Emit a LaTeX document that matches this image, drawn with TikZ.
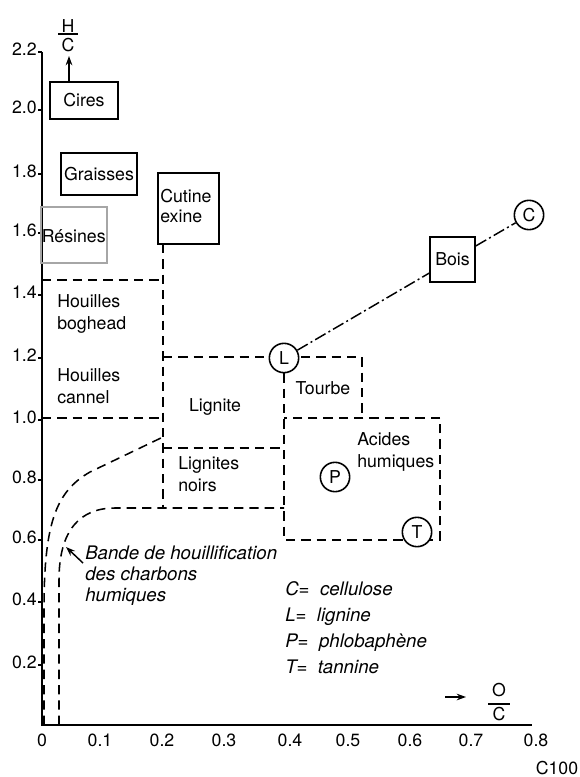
\documentclass[tikz,border=0pt]{standalone}
\usepackage{fontspec}
\setmainfont{TeX Gyre Heros}
\usetikzlibrary{arrows.meta}
\begin{document}
\begin{tikzpicture}[x=0.75pt,y=-0.75pt,
  lbl/.style={font=\fontsize{13.3pt}{16.5pt}\selectfont, inner sep=0pt},
  itl/.style={font=\fontsize{14pt}{15.75pt}\selectfont\itshape, inner sep=0pt},
  boxnode/.style={draw, line width=1.25pt, lbl},
  circ/.style={draw, circle, fill=white, line width=1.2pt, minimum size=22pt, inner sep=0pt, lbl},
  region/.style={line width=1.15pt, dash pattern=on 7pt off 4.5pt},
  chain/.style={line width=1.1pt, dash pattern=on 9pt off 2.5pt on 1.5pt off 2.5pt},
  axis/.style={line width=1.4pt},
  tip/.style={-{Stealth[length=7pt,width=5pt]}, line width=1.1pt}
]
\useasboundingbox (0,0) rectangle (580,777);

% axes
\draw[axis] (42,52) -- (42,725) -- (532,725);
\foreach \y/\t [count=\i] in {52/2.2,110/2.0,174/1.8,233/1.6,295/1.4,358/1.2,420/1.0,480/0.8,540/0.6,602/0.4,665/0.2}{
  \draw[line width=0.9pt] (38,\y) -- (42,\y);
  \node[lbl, anchor=east] (ylab\i) at (37,\y-3) {\t};
}
\foreach \x/\t [count=\i] in {42/0,100/0.1,162/0.2,224/0.3,290/0.4,348/0.5,410/0.6,471/0.7,536/0.8}{
  \node[lbl] (xlab\i) at (\x,740) {\t};
}
\node[lbl] (fig) at (557,768) {C100};

% axis titles
\node[lbl] (hnum) at (68,26) {H};
\node[lbl] (hden) at (68,45) {C};
\coordinate (hb1) at (58,34); \coordinate (hb2) at (78,34);
\draw[line width=1.1pt] (hb1) -- (hb2);
\node[lbl] (onum) at (499,690) {O};
\node[lbl] (oden) at (499,714) {C};
\coordinate (ob1) at (488,704); \coordinate (ob2) at (510,704);
\draw[line width=1.1pt] (ob1) -- (ob2);
\coordinate (oa1) at (445,697); \coordinate (oa2) at (466,697);
\draw[tip] (oa1) -- (oa2);

% boxes
\node[boxnode, minimum width=51pt, minimum height=27.75pt] (cires) at (84,100.5) {Cires};
\coordinate (hup) at (69,56);
\draw[tip] (cires.north -| hup) -- (hup);
\node[boxnode, minimum width=57pt, minimum height=31.5pt] (graisses) at (99,174) {Graisses};
\node[draw=gray!70, line width=1.2pt, minimum width=49.5pt, minimum height=42pt, inner sep=0pt] (resines) at (74,235) {};
\node[lbl, anchor=west] (restext) at (41.5,236) {Résines};
\node[draw, line width=1.25pt, minimum width=45.75pt, minimum height=53.25pt, inner sep=0pt] (cutine) at (188.5,208.5) {};
\node[lbl, anchor=west, align=left] (cuttext) at (160,206) {Cutine\\[-2pt]exine};

% regions
\draw[region] (42,280) -- (163,280);
\draw[region] (163,244) -- (163,508);
\draw[region] (42,418) -- (163,418);
\draw[region] (163,357) -- (362,357) -- (362,418);
\draw[region] (284,358) -- (284,540) -- (440,540) -- (440,418) -- (284,418);
\draw[region] (163,448) -- (284,448);
\draw[region] (59,725) -- (59,580) .. controls (59,530) and (80,508) .. (115,508) -- (284,508);
\draw[region] (44,725) -- (44,610) .. controls (44,525) and (55,492) .. (90,472) -- (163,437);

% region labels
\node[lbl, anchor=west, align=left] (bog) at (57,314) {Houilles\\boghead};
\node[lbl, anchor=west, align=left] (can) at (57,386) {Houilles\\cannel};
\node[lbl] (lig) at (215,407) {Lignite};
\node[lbl, anchor=west, align=left] (lgn) at (178,474) {Lignites\\noirs};
\node[lbl] (tou) at (323,388) {Tourbe};
\node[lbl, anchor=west, align=left] (aci) at (357,452) {Acides\\humiques};

% circles and Bois
\node[circ] (C) at (529,215) {C};
\node[circ] (L) at (284,358) {L};
\node[circ] (P) at (335,477) {P};
\node[circ] (T) at (417,532) {T};
\node[boxnode, minimum width=33.75pt, minimum height=33.75pt] (bois) at (452.5,259.5) {Bois};
\draw[chain] (L) -- (bois);
\draw[chain] (bois) -- (C);

% annotation
\node[itl, anchor=west, align=left] (bande) at (85,576) {Bande de houillification\\des charbons\\humiques};
\coordinate (btail) at (83,563); \coordinate (bhead) at (66,547);
\draw[tip] (btail) -- (bhead);

% legend
\node[font=\fontsize{14pt}{19.5pt}\selectfont\itshape, inner sep=0pt, anchor=west, align=left] (legend) at (285,627.5) {C= \ cellulose\\L= \ lignine\\P= \ phlobaphène\\T= \ tannine};
\end{tikzpicture}
\end{document}
